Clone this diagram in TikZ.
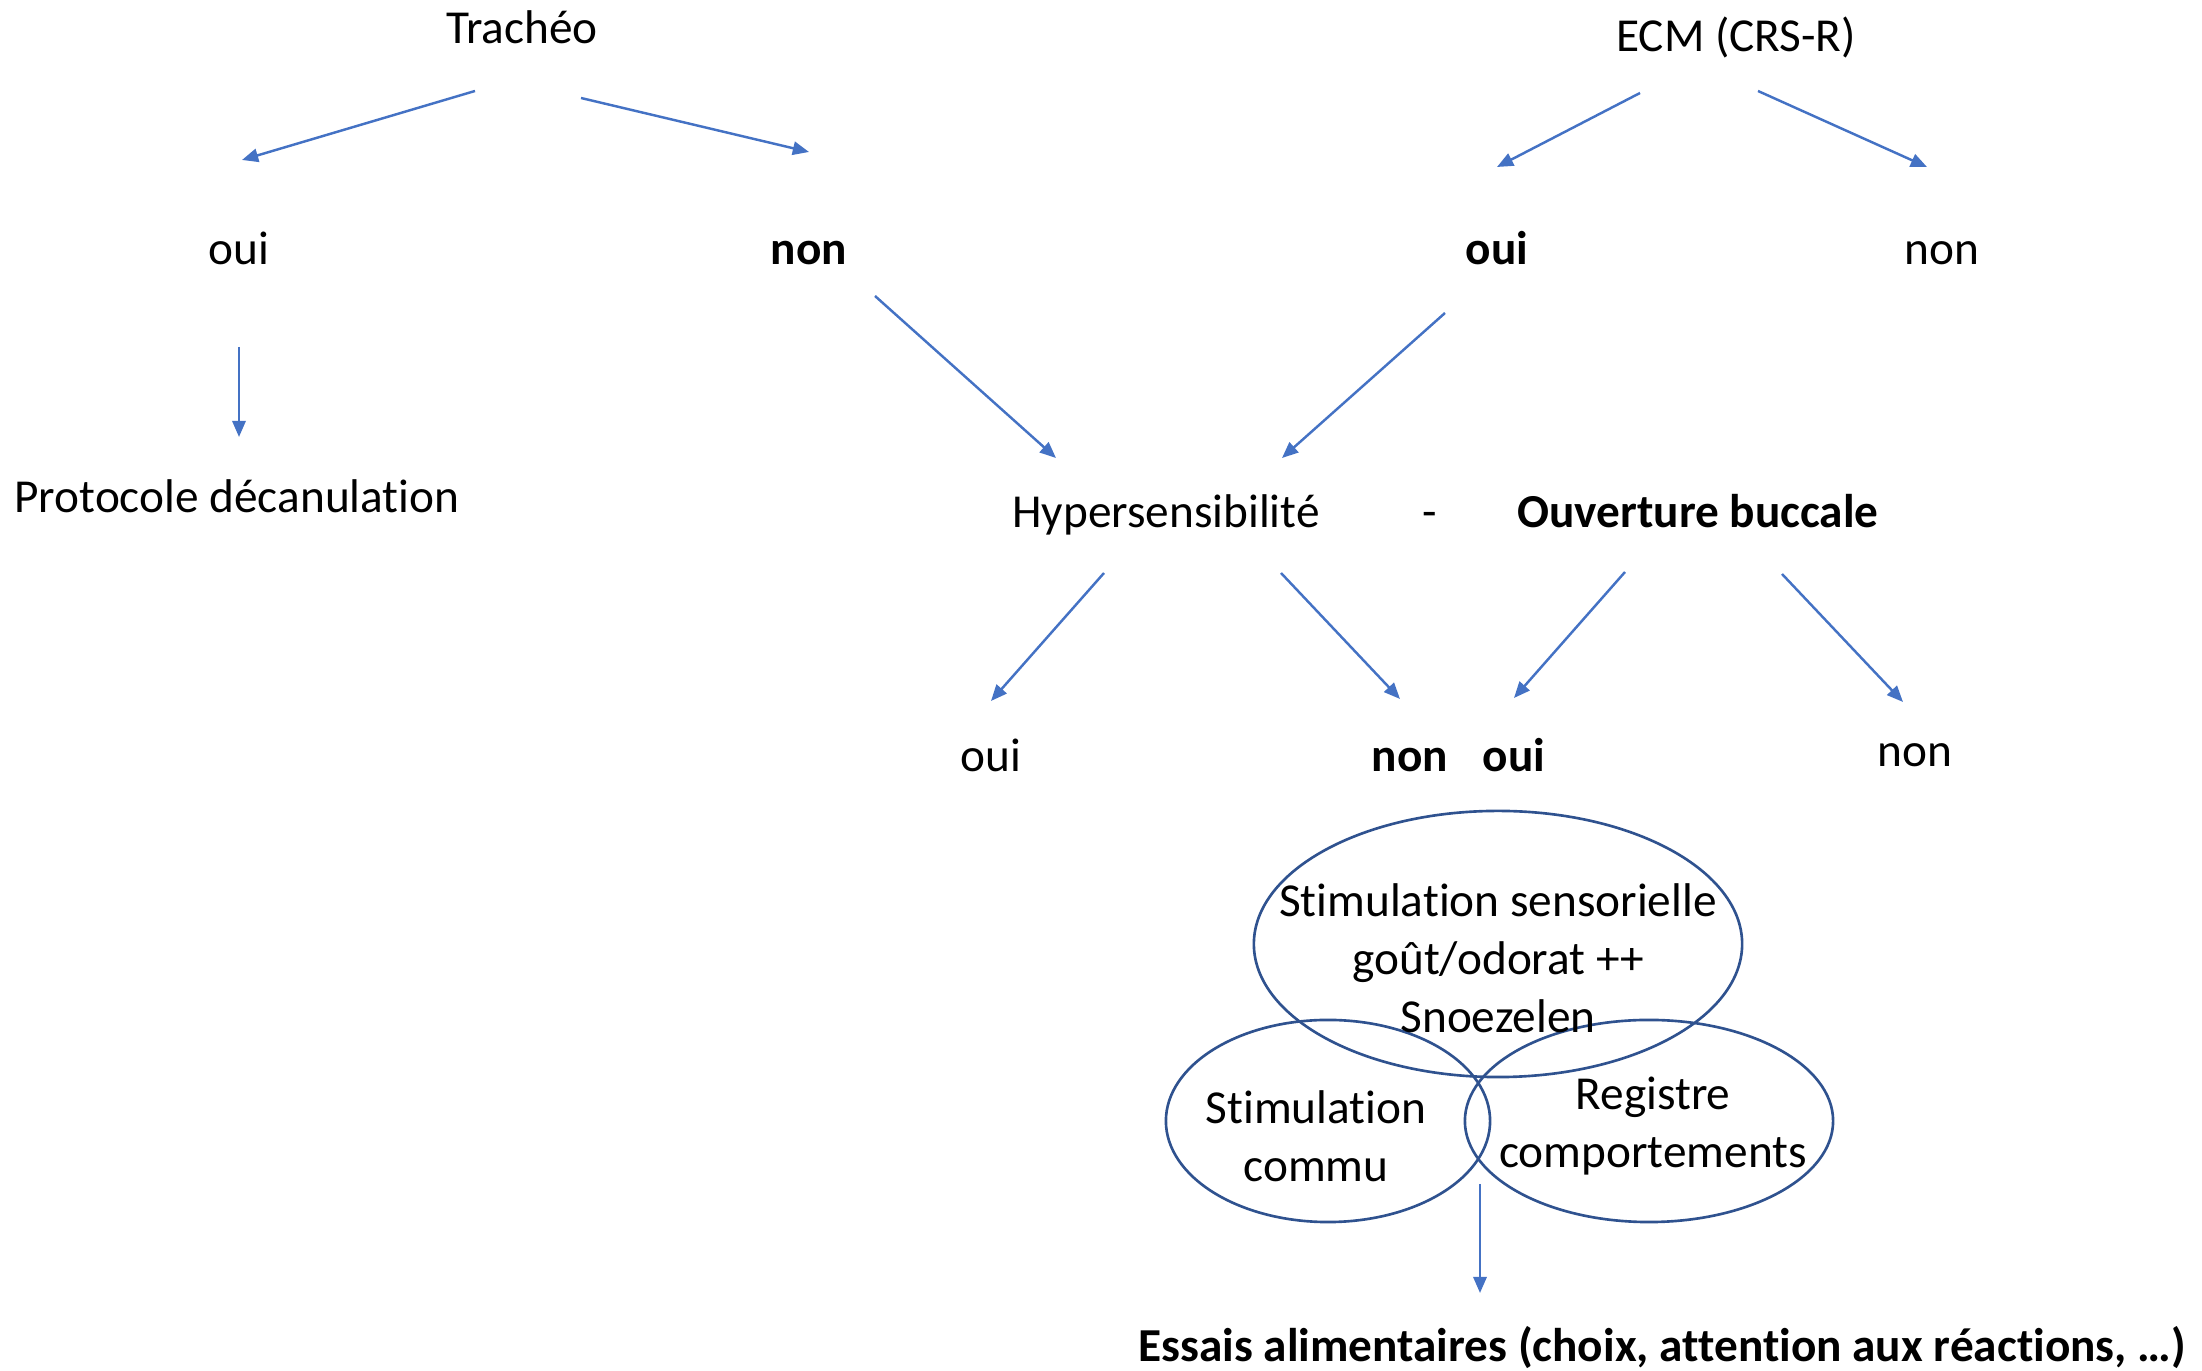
\documentclass[tikz,border=0pt]{standalone}
\usepackage{fontspec}
\setmainfont{Carlito}[RawFeature={-liga;-clig;-calt;-dlig}]
\usetikzlibrary{arrows.meta,shapes.geometric}
\definecolor{arrowblue}{HTML}{4472C4}
\definecolor{ringblue}{HTML}{2F528F}
\begin{document}
\begin{tikzpicture}[x=0.01cm,y=-0.01cm,
  lbl/.style={inner sep=0pt,anchor=base,font=\fontsize{13.45}{16.5}\selectfont},
  blbl/.style={lbl,font=\fontsize{13.45}{16.5}\selectfont\bfseries},
  block/.style={inner sep=0pt,align=center,font=\fontsize{13.45}{16.5}\selectfont},
  link/.style={draw=arrowblue,line width=0.7pt,-{Triangle[length=4.6pt,width=3.8pt]}},
  ring/.style={draw=ringblue,line width=0.75pt,ellipse,inner sep=0pt}]
\useasboundingbox (0,0) rectangle (2202,1371);

% --- labels ---
\node[lbl]  (trach)  at (522,44)  {Trachéo};
\node[lbl]  (ecm)    at (1736,52) {ECM (CRS-R)};
\node[lbl]  (ouiA)   at (239,265) {oui};
\node[blbl] (nonA)   at (809,265) {non};
\node[blbl] (ouiB)   at (1497,265) {oui};
\node[lbl]  (nonB)   at (1942,265) {non};
\node[lbl]  (proto)  at (237,513) {Protocole décanulation};
\node[lbl]  (hyper)  at (1166,528) {Hypersensibilité};
\node[lbl]  (dash)   at (1430,528) {-};
\node[blbl] (ouvert) at (1698,528) {Ouverture buccale};
\node[lbl]  (ouiC)   at (991,772) {oui};
\node[blbl] (nonC)   at (1410,772) {non};
\node[blbl] (ouiD)   at (1514,772) {oui};
\node[lbl]  (nonD)   at (1915,767) {non};
\node[blbl] (essais) at (1662,1362) {Essais alimentaires (choix, attention aux réactions, …)};

% --- overlapping activity rings ---
\node[ring,minimum width=4.88cm,minimum height=2.66cm] (sens)  at (1498,944) {};
\node[ring,minimum width=3.24cm,minimum height=2.02cm] (commu) at (1328,1121) {};
\node[ring,minimum width=3.68cm,minimum height=2.02cm] (regis) at (1649,1121) {};
\node[block] (sensT)  at (1498,958)  {Stimulation sensorielle\\goût/odorat ++\\Snoezelen};
\node[block] (commuT) at (1316,1136) {Stimulation\\commu};
\node[block] (regisT) at (1653,1126) {Registre\\comportements};

% --- connector end points ---
\coordinate (a1s) at (475,91);   \coordinate (a1e) at (242,160);
\coordinate (a2s) at (581,98);   \coordinate (a2e) at (809,152);
\coordinate (a3s) at (1640,93);  \coordinate (a3e) at (1497,167);
\coordinate (a4s) at (1758,91);  \coordinate (a4e) at (1927,167);
\coordinate (a5s) at (239,347);  \coordinate (a5e) at (239,437);
\coordinate (a6s) at (875,296);  \coordinate (a6e) at (1056,458);
\coordinate (a7s) at (1445,313); \coordinate (a7e) at (1282,458);
\coordinate (a8s) at (1104,573); \coordinate (a8e) at (991,701);
\coordinate (a9s) at (1281,573); \coordinate (a9e) at (1400,699);
\coordinate (b1s) at (1625,572); \coordinate (b1e) at (1514,698);
\coordinate (b2s) at (1782,574); \coordinate (b2e) at (1903,702);
\coordinate (b3s) at (1480,1184);\coordinate (b3e) at (1480,1293);

% --- connectors ---
\draw[link] (a1s) -- (a1e);
\draw[link] (a2s) -- (a2e);
\draw[link] (a3s) -- (a3e);
\draw[link] (a4s) -- (a4e);
\draw[link] (a5s) -- (a5e);
\draw[link] (a6s) -- (a6e);
\draw[link] (a7s) -- (a7e);
\draw[link] (a8s) -- (a8e);
\draw[link] (a9s) -- (a9e);
\draw[link] (b1s) -- (b1e);
\draw[link] (b2s) -- (b2e);
\draw[link] (b3s) -- (b3e);
\end{tikzpicture}
\end{document}
